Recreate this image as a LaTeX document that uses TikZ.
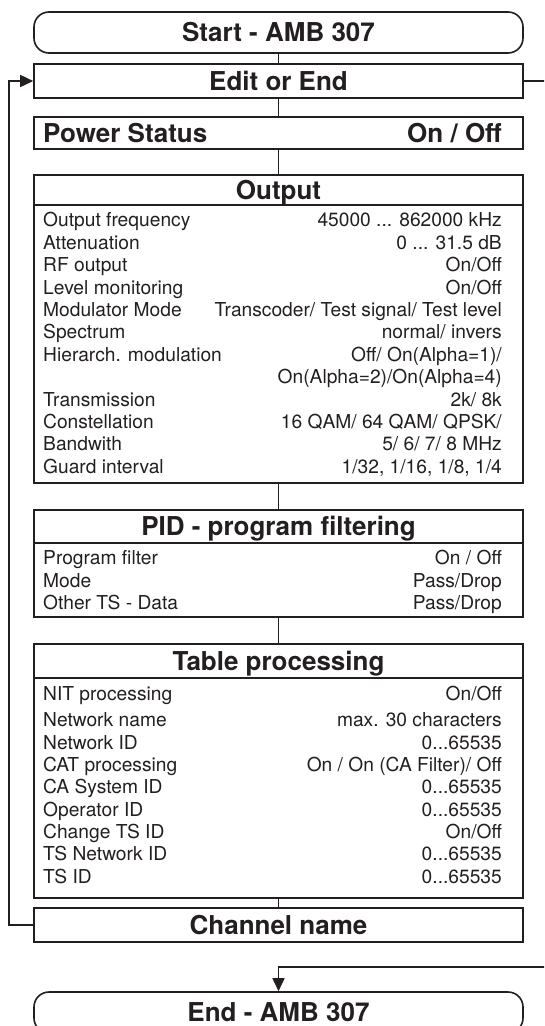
\documentclass[tikz,border=0pt]{standalone}
\usepackage{fontspec}
\setmainfont{TeX Gyre Heros}
\usetikzlibrary{arrows.meta}
\definecolor{ink}{HTML}{231F20}
\newcommand{\itemrow}[4]{%
  \node[item,anchor=base west] (#1l) at (43,#2+6.9) {#3};
  \node[item,anchor=base east] (#1r) at (502,#2+6.9) {#4};}
\newcommand{\itemright}[3]{%
  \node[item,anchor=base east] (#1r) at (502,#2+6.9) {#3};}
\begin{document}
\begin{tikzpicture}[x=1pt,y=-1pt,
  box/.style={draw=ink, line width=1.6pt, rectangle, inner sep=0pt,
    minimum width=489pt, text=ink, text height=18.7pt, text depth=0pt,
    font=\fontsize{26}{30}\selectfont\bfseries},
  term/.style={box, rounded corners=15pt},
  item/.style={font=\fontsize{19.2}{22}\selectfont, text=ink, inner sep=0pt},
  bolditem/.style={font=\fontsize{26}{30}\selectfont\bfseries, text=ink, inner sep=0pt},
  link/.style={draw=ink, line width=1.6pt},
  arr/.style={link, -{Triangle[length=13pt,width=12pt]}}]
\begin{scope}
\clip (0,0) rectangle (544,1026);
% boxes
\node[term, minimum height=41pt] (start) at (278.5,32.5) {Start - AMB 307};
\node[box, minimum height=34pt] (edit) at (278.5,81) {Edit or End};
\node[box, minimum height=32pt] (power) at (278.5,133) {};
\node[bolditem, anchor=base west] (powl) at (43,142.4) {Power Status};
\node[bolditem, anchor=base east] (powr) at (502,142.4) {On / Off};
\node[box, minimum height=30pt] (outhdr) at (278.5,190) {Output};
\node[box, minimum height=278pt] (outbody) at (278.5,344) {};
\node[box, minimum height=33pt] (pidhdr) at (278.5,526.5) {PID - program filtering};
\node[box, minimum height=74pt] (pidbody) at (278.5,580) {};
\node[box, minimum height=34pt] (tabhdr) at (278.5,661) {Table processing};
\node[box, minimum height=220pt] (tabbody) at (278.5,788) {};
\node[box, minimum height=34pt] (chan) at (278.5,925) {Channel name};
\node[term, minimum height=41pt] (end) at (278.5,1012.5) {End - AMB 307};
% output rows
\itemrow{o1}{220}{Output frequency}{45000 ... 862000 kHz}
\itemrow{o2}{242.4}{Attenuation}{0 ... 31.5 dB}
\itemrow{o3}{264.8}{RF output}{On/Off}
\itemrow{o4}{287.2}{Level monitoring}{On/Off}
\itemrow{o5}{309.6}{Modulator Mode}{Transcoder/ Test signal/ Test level}
\itemrow{o6}{332}{Spectrum}{normal/ invers}
\itemrow{o7}{354.4}{Hierarch. modulation}{Off/ On(Alpha=1)/}
\itemright{o8}{376.8}{On(Alpha=2)/On(Alpha=4)}
\itemrow{o9}{399.2}{Transmission}{2k/ 8k}
\itemrow{o10}{421.6}{Constellation}{16 QAM/ 64 QAM/ QPSK/}
\itemrow{o11}{444}{Bandwith}{5/ 6/ 7/ 8 MHz}
\itemrow{o12}{466.4}{Guard interval}{1/32, 1/16, 1/8, 1/4}
% pid rows
\itemrow{p1}{558}{Program filter}{On / Off}
\itemrow{p2}{580.5}{Mode}{Pass/Drop}
\itemrow{p3}{603}{Other TS - Data}{Pass/Drop}
% table rows
\itemrow{t1}{694}{NIT processing}{On/Off}
\itemrow{t2}{720}{Network name}{max. 30 characters}
\itemrow{t3}{742.3}{Network ID}{0...65535}
\itemrow{t4}{764.6}{CAT processing}{On / On (CA Filter)/ Off}
\itemrow{t5}{786.9}{CA System ID}{0...65535}
\itemrow{t6}{809.2}{Operator ID}{0...65535}
\itemrow{t7}{831.5}{Change TS ID}{On/Off}
\itemrow{t8}{853.8}{TS Network ID}{0...65535}
\itemrow{t9}{876.1}{TS ID}{0...65535}
% connectors
\draw[link] (start.south) -- (edit.north);
\draw[link] (edit.south) -- (power.north);
\draw[link] (power.south) -- (outhdr.north);
\draw[link] (outbody.south) -- (pidhdr.north);
\draw[link] (pidbody.south) -- (tabhdr.north);
\draw[link] (tabbody.south) -- (chan.north);
\coordinate (lc) at (9,925);
\draw[arr] (chan.west) -- (lc) |- (edit.west);
\coordinate (re) at (546,81);
\draw[link] (edit.east) -- (re);
\coordinate (rb) at (546,967);
\coordinate (bend) at (278.5,967);
\draw[arr] (rb) -- (bend) -- (end.north);
\end{scope}
\pgfresetboundingbox
\useasboundingbox (0,0) rectangle (544,1026);
\end{tikzpicture}
\end{document}
